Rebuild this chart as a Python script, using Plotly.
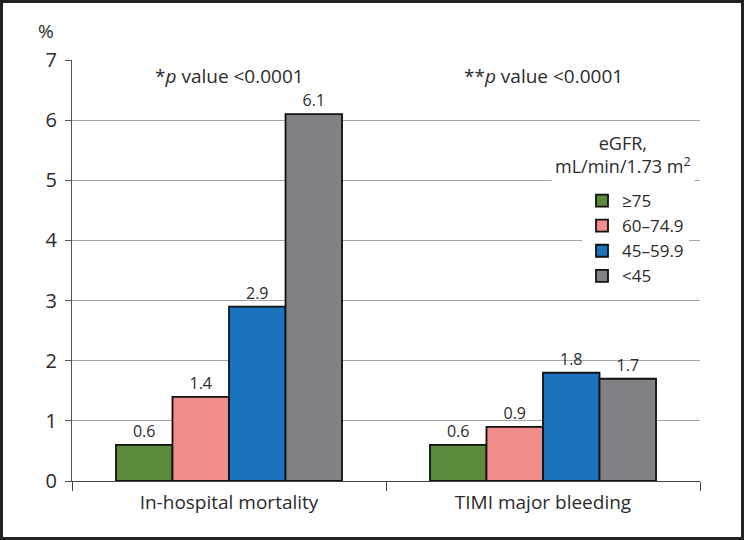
import plotly.graph_objects as go

categories = ["In-hospital mortality", "TIMI major bleeding"]
series_names = ["≥75", "60–74.9", "45–59.9", "<45"]
values_ge75 = [0.6, 0.6]
values_60_74 = [1.4, 0.9]
values_45_59 = [2.9, 1.8]
values_lt45 = [6.1, 1.7]
colors = ["#5b8a3c", "#f08c8a", "#1b72bd", "#808285"]
pvalue_labels = ["*<i>p</i> value <0.0001", "**<i>p</i> value <0.0001"]
y_ticks = [0, 1, 2, 3, 4, 5, 6, 7]

FONT = "Open Sans"
TXT = "#2b2b2b"

fig = go.Figure()
for name, vals, col in zip(series_names,
                           [values_ge75, values_60_74, values_45_59, values_lt45],
                           colors):
    fig.add_trace(go.Bar(
        x=categories, y=vals, name=name,
        marker=dict(color=col, line=dict(color="#111111", width=1.8)),
        text=[f"{v:.1f}" for v in vals], textposition="outside",
        textfont=dict(family=FONT, size=16, color=TXT),
        cliponaxis=False,
    ))

W, H = 744, 540
L, R, T, B = 72, 44, 60, 59
pw, ph = W - L - R, H - T - B


def px_y(py):
    """paper y from pixel row (top-left origin)."""
    return (H - B - py) / ph


def px_x(px):
    return (px - L) / pw


fig.update_layout(
    width=W, height=H,
    margin=dict(l=L, r=R, t=T, b=B),
    paper_bgcolor="white", plot_bgcolor="white",
    barmode="group", bargap=0.28, bargroupgap=0,
    font=dict(family=FONT, size=19, color=TXT),
    showlegend=True,
    legend=dict(
        x=px_x(582), xanchor="left", y=px_y(183), yanchor="top",
        bgcolor="white", font=dict(family=FONT, size=17, color=TXT),
        tracegroupgap=0, itemwidth=30,
    ),
    xaxis=dict(
        showline=True, linecolor="#444444", linewidth=1.3,
        ticks="outside", tickson="boundaries", ticklen=9,
        tickcolor="#444444", tickwidth=1.3,
        tickfont=dict(family=FONT, size=19, color=TXT),
        ticklabelstandoff=4,
        showgrid=False,
    ),
    yaxis=dict(
        range=[0, 7], tickvals=y_ticks,
        showline=True, linecolor="#555555", linewidth=1.3,
        ticks="outside", ticklen=6, tickcolor="#555555", tickwidth=1.3,
        showgrid=True, gridcolor="#a6a6a6", gridwidth=1.3,
        zeroline=False,
        tickfont=dict(family=FONT, size=20, color=TXT),
        ticklabelstandoff=4,
    ),
    shapes=[dict(
        type="rect", xref="paper", yref="paper",
        x0=px_x(1.5), x1=px_x(W - 1.5),
        y0=px_y(H - 1.5), y1=px_y(1.5),
        line=dict(color="#222222", width=3), fillcolor="rgba(0,0,0,0)",
    )],
)

annotations = [
    dict(x=categories[0], y=6.73, xref="x", yref="y", text=pvalue_labels[0],
         showarrow=False, yanchor="middle",
         font=dict(family=FONT, size=19, color=TXT)),
    dict(x=categories[1], y=6.73, xref="x", yref="y", text=pvalue_labels[1],
         showarrow=False, yanchor="middle",
         font=dict(family=FONT, size=19, color=TXT)),
    dict(x=px_x(46), y=px_y(31), xref="paper", yref="paper", text="%",
         showarrow=False, xanchor="center", yanchor="middle",
         font=dict(family=FONT, size=19, color=TXT)),
    dict(x=px_x(623), y=px_y(154), xref="paper", yref="paper",
         xanchor="center", yanchor="middle", align="center",
         text="eGFR,<br>mL/min/1.73 m<sup>2</sup>", bgcolor="white",
         borderpad=3,
         showarrow=False, font=dict(family=FONT, size=18, color=TXT)),
]
fig.update_layout(annotations=annotations)

fig.write_html("out.html",
               config={"displayModeBar": False},
               post_script="document.body.style.margin='0';document.body.style.overflow='hidden';")
